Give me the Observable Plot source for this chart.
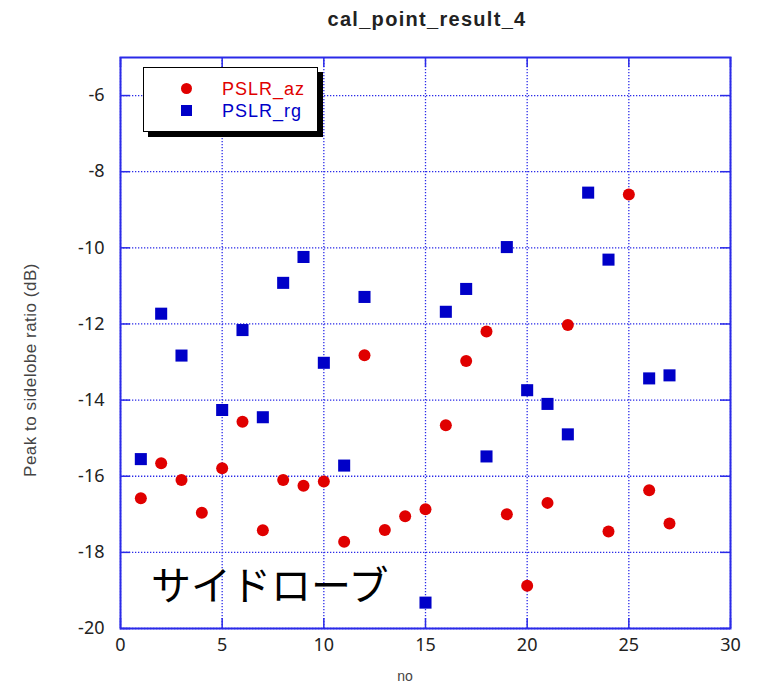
<!DOCTYPE html>
<html>
<head>
<meta charset="utf-8">
<script src="https://cdn.jsdelivr.net/npm/d3@7"></script>
<script src="https://cdn.jsdelivr.net/npm/@observablehq/plot@0.6"></script>
<style>
  html, body { margin: 0; padding: 0; background: #fff; }
  #wrap { position: relative; width: 762px; height: 688px; overflow: hidden; font-family: "Liberation Sans", Arial, sans-serif; }
  #title { height: 50px; position: relative; }
  #title span { position: absolute; left: 0; width: 854px; top: 8px; text-align: center; font-weight: bold; font-size: 20px; letter-spacing: 1.3px; color: #222; }
  .ov { position: absolute; white-space: nowrap; }
  #legend { left: 143px; top: 67px; width: 173px; height: 63px; border: 1.5px solid #000; background: #fff; box-shadow: 5px 5px 0 #000; }
  .row { position: absolute; left: 0; height: 22px; line-height: 22px; font-size: 18px; letter-spacing: 1px; }
  .sym { position: absolute; }
  #ylab { left: 31px; top: 370px; transform: translate(-50%, -50%) rotate(-90deg); font-size: 17px; letter-spacing: 0.5px; color: #444; }
  #xlab { left: 405px; top: 668px; transform: translateX(-50%); font-size: 14px; line-height: 16px; color: #444; }
  #note { left: 151px; top: 563px; font-family: "Noto Sans CJK JP", sans-serif; font-size: 40px; line-height: 40px; color: #000; }
</style>
</head>
<body>
<div id="wrap">
  <div id="title"><span id="titleText"></span></div>
  <div id="chart"></div>
  <div class="ov" id="legend"></div>
  <div class="ov" id="ylab"></div>
  <div class="ov" id="xlab"></div>
  <div class="ov" id="note"></div>
</div>
<script>
// ---- data ----
const titleText = "cal_point_result_4";
const yLabel = "Peak to sidelobe ratio (dB)";
const xLabel = "no";
const noteText = "サイドローブ";
const seriesNames = ["PSLR_az", "PSLR_rg"];
const seriesColors = ["#e00000", "#0000c8"];

const azX = [1,2,3,4,5,6,7,8,9,10,11,12,13,14,15,16,17,18,19,20,21,22,24,25,26,27];
const azY = [-16.58,-15.66,-16.1,-16.96,-15.79,-14.57,-17.42,-16.1,-16.25,-16.14,-17.72,-12.82,-17.41,-17.05,-16.87,-14.66,-12.97,-12.2,-17.0,-18.88,-16.7,-12.03,-17.45,-8.6,-16.37,-17.24];

const rgX = [1,2,3,5,6,7,8,9,10,11,12,15,16,17,18,19,20,21,22,23,24,26,27];
const rgY = [-15.55,-11.73,-12.83,-14.26,-12.16,-14.45,-10.92,-10.24,-13.02,-15.72,-11.29,-19.32,-11.68,-11.08,-15.48,-9.98,-13.74,-14.1,-14.9,-8.55,-10.31,-13.43,-13.35];

const xTicks = [0,5,10,15,20,25,30];
const yTicks = [-20,-18,-16,-14,-12,-10,-8,-6];
const xDomain = [0, 30];
const yDomain = [-20, -5];

// ---- build ----
const az = azX.map((x, i) => ({x, y: azY[i]}));
const rg = rgX.map((x, i) => ({x, y: rgY[i]}));
const frameBlue = "#2a2ae8";

const W = 762, H = 638;
const mL = 120, mR = 32, mT = 7, mB = 60;
const fw = W - mL - mR, fh = H - mT - mB;
const tickLen = 10;

const plot = Plot.plot({
  width: W, height: H,
  marginLeft: mL, marginRight: mR, marginTop: mT, marginBottom: mB,
  style: {background: "transparent", overflow: "visible"},
  x: {domain: xDomain, ticks: xTicks},
  y: {domain: yDomain, ticks: yTicks},
  marks: [
    Plot.gridX(xTicks, {stroke: frameBlue, strokeOpacity: 1, strokeWidth: 1.3, strokeDasharray: "1.3,1.7"}),
    Plot.gridY(yTicks, {stroke: frameBlue, strokeOpacity: 1, strokeWidth: 1.3, strokeDasharray: "1.3,1.7"}),
    Plot.tickX(xTicks, {x: d => d, stroke: frameBlue, strokeWidth: 1.5, insetTop: fh - tickLen}),
    Plot.tickX(xTicks, {x: d => d, stroke: frameBlue, strokeWidth: 1.5, insetBottom: fh - tickLen}),
    Plot.tickY(yTicks, {y: d => d, stroke: frameBlue, strokeWidth: 1.5, insetRight: fw - tickLen}),
    Plot.tickY(yTicks, {y: d => d, stroke: frameBlue, strokeWidth: 1.5, insetLeft: fw - tickLen}),
    Plot.frame({stroke: frameBlue, strokeWidth: 2}),
    Plot.axisX(xTicks, {tickSize: 0, tickPadding: 10, fontSize: 18, label: null, fill: "#222", style: "letter-spacing:1px"}),
    Plot.axisY(yTicks, {tickSize: 0, tickPadding: 16, fontSize: 18, label: null, fill: "#222"}),
    Plot.dot(az, {x: "x", y: "y", r: 6, fill: seriesColors[0], stroke: null, symbol: "circle"}),
    Plot.dot(rg, {x: "x", y: "y", r: 6.8, fill: seriesColors[1], stroke: null, symbol: "square"})
  ]
});
document.getElementById("chart").appendChild(plot);
// plain hyphen-minus tick labels like the reference
plot.querySelectorAll("text").forEach(t => { t.textContent = t.textContent.replace("−", "-"); });

document.getElementById("titleText").textContent = titleText;
document.getElementById("ylab").textContent = yLabel;
document.getElementById("xlab").textContent = xLabel;
document.getElementById("note").textContent = noteText;

// legend
const leg = document.getElementById("legend");
seriesNames.forEach((name, i) => {
  const row = document.createElement("div");
  row.className = "row";
  row.style.top = (10 + i * 22) + "px";
  row.style.width = "100%";
  const sym = document.createElement("div");
  sym.className = "sym";
  if (i === 0) {
    Object.assign(sym.style, {left: "37px", top: "5px", width: "11px", height: "11px", borderRadius: "50%", background: seriesColors[0]});
  } else {
    Object.assign(sym.style, {left: "37px", top: "5px", width: "11px", height: "11px", background: seriesColors[1]});
  }
  const lab = document.createElement("span");
  lab.textContent = name;
  Object.assign(lab.style, {position: "absolute", left: "78px", color: seriesColors[i]});
  row.appendChild(sym);
  row.appendChild(lab);
  leg.appendChild(row);
});
</script>
</body>
</html>
